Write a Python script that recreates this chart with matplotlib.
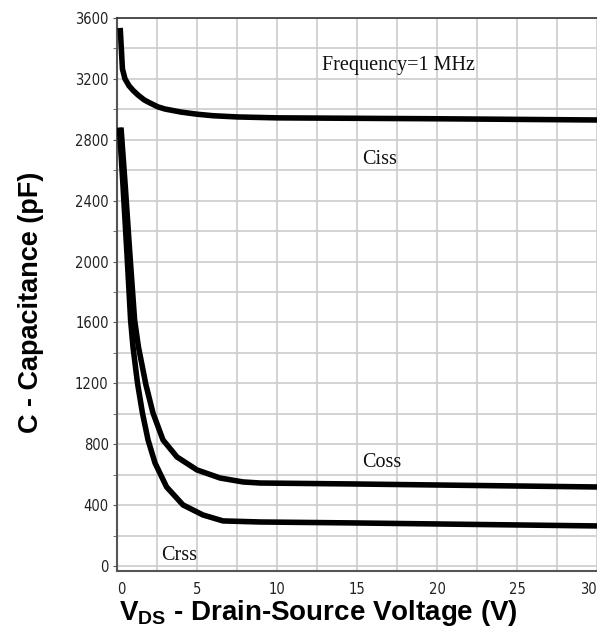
import matplotlib
matplotlib.use("Agg")
import matplotlib.pyplot as plt
from matplotlib.ticker import MultipleLocator

# ---- data ----
ciss_v = [0.2, 0.27, 0.34, 0.5, 0.75, 1.0, 1.31, 1.7, 2.0, 2.56, 3.0, 4.0, 5.0, 6.0, 7.5, 10.0, 20.0, 30.0]
ciss_c = [3535, 3400, 3265, 3200, 3155, 3125, 3094, 3062, 3045, 3016, 3002, 2982, 2968, 2958, 2950, 2944, 2938, 2930]

coss_v = [0.25, 0.52, 0.8, 1.1, 1.34, 1.81, 2.25, 2.875, 3.75, 5.0, 6.44, 7.875, 8.94, 14.6, 30.0]
coss_c = [2880, 2490, 2056, 1616, 1439, 1189, 1005, 828, 716, 631, 578, 552, 545, 539, 519]

crss_v = [0.15, 0.38, 0.62, 0.85, 1.0, 1.28, 1.59, 1.94, 2.375, 3.1, 4.125, 5.375, 6.625, 8.94, 14.6, 30.0]
crss_c = [2880, 2490, 2056, 1616, 1439, 1202, 1005, 828, 677, 519, 401, 335, 296, 289, 283, 263]

x_ticks = [0, 5, 10, 15, 20, 25, 30]
y_ticks = [0, 400, 800, 1200, 1600, 2000, 2400, 2800, 3200, 3600]

annotations = [("Frequency=1 MHz", 12.81, 3285),
               ("Ciss", 15.31, 2671),
               ("Coss", 15.31, 677),
               ("Crss", 2.75, 72)]

plt.rcParams['mathtext.fontset'] = 'custom'
plt.rcParams['mathtext.rm'] = 'Liberation Sans'
plt.rcParams['mathtext.bf'] = 'Liberation Sans:bold'

fig = plt.figure(figsize=(5.97, 6.39), dpi=100)
ax = fig.add_axes([117/597, 1-571/639, 1-117/597, (571-18)/639])

ax.set_xlim(0, 30)
ax.set_ylim(-33, 3600)

ax.set_xticks(x_ticks)
ax.xaxis.set_minor_locator(MultipleLocator(2.5))
ax.set_yticks(y_ticks)
ax.yaxis.set_minor_locator(MultipleLocator(200))

ax.grid(True, which='both', color='#cccccc', linewidth=1.2)
ax.set_axisbelow(True)

for v, c in [(ciss_v, ciss_c), (coss_v, coss_c), (crss_v, crss_c)]:
    ax.plot(v, c, color='black', linewidth=4.0, solid_joinstyle='round',
            solid_capstyle='butt', zorder=3)

ax.set_xticklabels([str(t) for t in x_ticks], family='DejaVu Sans',
                   fontstretch='condensed', fontsize=10.5, color='#222222')
ax.set_yticklabels([str(t) for t in y_ticks], family='DejaVu Sans',
                   fontstretch='condensed', fontsize=10.5, color='#222222')
xl = ax.get_xticklabels()
xl[0].set_ha('left')
xl[-1].set_ha('right')

ax.tick_params(axis='x', which='both', length=0, pad=8)
ax.tick_params(axis='y', which='major', length=3, pad=3, color='#555555')
ax.tick_params(axis='y', which='minor', length=3, color='#555555')

for s in ['left', 'bottom']:
    ax.spines[s].set_color('#555555')
    ax.spines[s].set_linewidth(1.5)
ax.spines['top'].set_color('#333333')
ax.spines['top'].set_linewidth(1.2)
ax.spines['right'].set_visible(False)

for txt, x, y in annotations:
    ax.text(x, y, txt, family='Liberation Serif', fontsize=14.5,
            ha='left', va='center', color='#111111', zorder=4)

fig.text(318/597, 1-613/639, r'$\mathbf{V}_{\mathbf{DS}}$ - Drain-Source Voltage (V)',
         family='Liberation Sans', fontweight='bold', fontsize=20,
         ha='center', va='center')
fig.text(31/597, 1-302/639, 'C - Capacitance (pF)',
         family='Liberation Sans', fontweight='bold', fontsize=19.5,
         ha='center', va='center', rotation=90)

fig.savefig('out.png', dpi=100)
